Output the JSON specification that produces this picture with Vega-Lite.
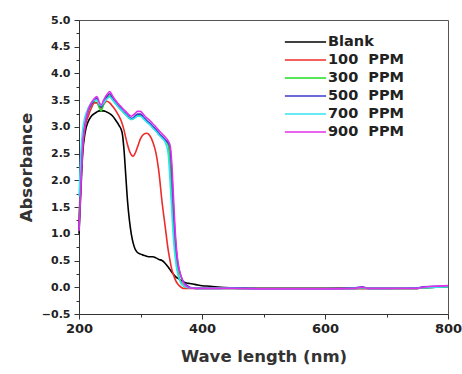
{
  "$schema": "https://vega.github.io/schema/vega-lite/v6.json",
  "width": 369,
  "height": 294,
  "autosize": {"type": "none"},
  "padding": {"left": 79, "top": 20, "right": 14, "bottom": 60},
  "background": "white",
  "config": {
    "view": {"stroke": "#555", "strokeWidth": 1},
    "font": "DejaVu Sans"
  },
  "data": {
    "values": [
      {"x": 200, "Blank": 1.0, "100": 1.2, "300": 1.3, "500": 1.1, "700": 1.7, "900": 1.05},
      {"x": 203, "Blank": 1.8, "100": 2.0, "300": 2.1, "500": 2.0, "700": 2.5, "900": 1.9},
      {"x": 206, "Blank": 2.5, "100": 2.6, "300": 2.75, "500": 2.7, "700": 2.95, "900": 2.65},
      {"x": 210, "Blank": 2.9, "100": 3.0, "300": 3.1, "500": 3.05, "700": 3.2, "900": 3.05},
      {"x": 215, "Blank": 3.1, "100": 3.2, "300": 3.3, "500": 3.3, "700": 3.35, "900": 3.32},
      {"x": 220, "Blank": 3.2, "100": 3.35, "300": 3.42, "500": 3.42, "700": 3.45, "900": 3.45},
      {"x": 225, "Blank": 3.25, "100": 3.45, "300": 3.48, "500": 3.5, "700": 3.5, "900": 3.53},
      {"x": 229, "Blank": 3.28, "100": 3.45, "300": 3.5, "500": 3.54, "700": 3.5, "900": 3.57},
      {"x": 233, "Blank": 3.3, "100": 3.38, "300": 3.36, "500": 3.42, "700": 3.42, "900": 3.46},
      {"x": 236, "Blank": 3.3, "100": 3.35, "300": 3.3, "500": 3.37, "700": 3.4, "900": 3.41},
      {"x": 240, "Blank": 3.3, "100": 3.42, "300": 3.42, "500": 3.45, "700": 3.45, "900": 3.5},
      {"x": 245, "Blank": 3.28, "100": 3.48, "300": 3.53, "500": 3.56, "700": 3.52, "900": 3.6},
      {"x": 250, "Blank": 3.25, "100": 3.45, "300": 3.58, "500": 3.62, "700": 3.56, "900": 3.66},
      {"x": 255, "Blank": 3.2, "100": 3.38, "300": 3.5, "500": 3.53, "700": 3.5, "900": 3.57},
      {"x": 260, "Blank": 3.12, "100": 3.3, "300": 3.43, "500": 3.45, "700": 3.43, "900": 3.49},
      {"x": 265, "Blank": 3.03, "100": 3.2, "300": 3.36, "500": 3.38, "700": 3.36, "900": 3.42},
      {"x": 270, "Blank": 2.9, "100": 3.07, "300": 3.3, "500": 3.32, "700": 3.3, "900": 3.36},
      {"x": 273, "Blank": 2.6, "100": 2.95, "300": 3.26, "500": 3.28, "700": 3.26, "900": 3.32},
      {"x": 276, "Blank": 2.1, "100": 2.8, "300": 3.23, "500": 3.25, "700": 3.23, "900": 3.29},
      {"x": 279, "Blank": 1.6, "100": 2.66, "300": 3.19, "500": 3.21, "700": 3.19, "900": 3.25},
      {"x": 282, "Blank": 1.25, "100": 2.55, "300": 3.16, "500": 3.18, "700": 3.16, "900": 3.22},
      {"x": 285, "Blank": 1.0, "100": 2.48, "300": 3.14, "500": 3.16, "700": 3.14, "900": 3.2},
      {"x": 288, "Blank": 0.83, "100": 2.45, "300": 3.15, "500": 3.17, "700": 3.15, "900": 3.22},
      {"x": 291, "Blank": 0.72, "100": 2.5, "300": 3.18, "500": 3.2, "700": 3.17, "900": 3.25},
      {"x": 295, "Blank": 0.65, "100": 2.62, "300": 3.22, "500": 3.24, "700": 3.2, "900": 3.29},
      {"x": 300, "Blank": 0.62, "100": 2.78, "300": 3.22, "500": 3.24, "700": 3.2, "900": 3.29},
      {"x": 305, "Blank": 0.6, "100": 2.86, "300": 3.16, "500": 3.18, "700": 3.15, "900": 3.23},
      {"x": 310, "Blank": 0.58, "100": 2.88, "300": 3.1, "500": 3.12, "700": 3.09, "900": 3.17},
      {"x": 315, "Blank": 0.57, "100": 2.84, "300": 3.05, "500": 3.07, "700": 3.04, "900": 3.12},
      {"x": 320, "Blank": 0.57, "100": 2.72, "300": 2.99, "500": 3.01, "700": 2.98, "900": 3.06},
      {"x": 325, "Blank": 0.55, "100": 2.52, "300": 2.93, "500": 2.95, "700": 2.92, "900": 3.0},
      {"x": 330, "Blank": 0.52, "100": 2.15, "300": 2.86, "500": 2.88, "700": 2.85, "900": 2.93},
      {"x": 335, "Blank": 0.5, "100": 1.6, "300": 2.8, "500": 2.82, "700": 2.79, "900": 2.87},
      {"x": 340, "Blank": 0.45, "100": 1.15, "300": 2.74, "500": 2.76, "700": 2.72, "900": 2.81},
      {"x": 345, "Blank": 0.38, "100": 0.7, "300": 2.66, "500": 2.7, "700": 2.5, "900": 2.74},
      {"x": 348, "Blank": 0.33, "100": 0.5, "300": 2.3, "500": 2.62, "700": 2.0, "900": 2.66},
      {"x": 351, "Blank": 0.28, "100": 0.33, "300": 1.7, "500": 2.1, "700": 1.4, "900": 2.3},
      {"x": 354, "Blank": 0.24, "100": 0.22, "300": 1.05, "500": 1.4, "700": 0.85, "900": 1.6},
      {"x": 357, "Blank": 0.2, "100": 0.13, "300": 0.6, "500": 0.85, "700": 0.5, "900": 0.95},
      {"x": 360, "Blank": 0.17, "100": 0.07, "300": 0.35, "500": 0.5, "700": 0.28, "900": 0.55},
      {"x": 363, "Blank": 0.15, "100": 0.03, "300": 0.18, "500": 0.32, "700": 0.15, "900": 0.33},
      {"x": 366, "Blank": 0.13, "100": 0.0, "300": 0.09, "500": 0.2, "700": 0.07, "900": 0.2},
      {"x": 370, "Blank": 0.1, "100": -0.02, "300": 0.03, "500": 0.1, "700": 0.02, "900": 0.08},
      {"x": 375, "Blank": 0.08, "100": -0.02, "300": 0.0, "500": 0.04, "700": 0.0, "900": 0.02},
      {"x": 380, "Blank": 0.07, "100": -0.02, "300": -0.01, "500": 0.0, "700": -0.01, "900": -0.01},
      {"x": 390, "Blank": 0.05, "100": -0.02, "300": -0.02, "500": -0.02, "700": -0.02, "900": -0.02},
      {"x": 400, "Blank": 0.03, "100": -0.02, "300": -0.02, "500": -0.02, "700": -0.02, "900": -0.02},
      {"x": 413, "Blank": 0.02, "100": -0.02, "300": -0.02, "500": -0.02, "700": -0.02, "900": -0.02},
      {"x": 430, "Blank": 0.0, "100": -0.02, "300": -0.02, "500": -0.02, "700": -0.02, "900": -0.02},
      {"x": 450, "Blank": -0.01, "100": -0.02, "300": -0.02, "500": -0.01, "700": -0.02, "900": -0.02},
      {"x": 500, "Blank": -0.02, "100": -0.03, "300": -0.03, "500": -0.03, "700": -0.03, "900": -0.03},
      {"x": 550, "Blank": -0.02, "100": -0.03, "300": -0.03, "500": -0.03, "700": -0.03, "900": -0.03},
      {"x": 600, "Blank": -0.02, "100": -0.03, "300": -0.03, "500": -0.03, "700": -0.03, "900": -0.03},
      {"x": 650, "Blank": -0.02, "100": -0.02, "300": -0.02, "500": -0.01, "700": -0.02, "900": -0.02},
      {"x": 660, "Blank": -0.02, "100": -0.02, "300": -0.01, "500": 0.01, "700": -0.01, "900": 0.0},
      {"x": 670, "Blank": -0.02, "100": -0.02, "300": -0.02, "500": -0.02, "700": -0.02, "900": -0.02},
      {"x": 700, "Blank": -0.02, "100": -0.02, "300": -0.02, "500": -0.02, "700": -0.02, "900": -0.02},
      {"x": 750, "Blank": -0.02, "100": -0.02, "300": -0.02, "500": -0.01, "700": -0.02, "900": -0.02},
      {"x": 760, "Blank": -0.01, "100": -0.01, "300": -0.01, "500": 0.01, "700": -0.01, "900": 0.0},
      {"x": 780, "Blank": 0.0, "100": 0.01, "300": 0.0, "500": 0.02, "700": 0.0, "900": 0.02},
      {"x": 800, "Blank": 0.01, "100": 0.02, "300": 0.01, "500": 0.02, "700": 0.01, "900": 0.03}
    ]
  },
  "transform": [
    {"fold": ["Blank", "100", "300", "500", "700", "900"], "as": ["series", "absorbance"]}
  ],
  "mark": {"type": "line", "strokeWidth": 1.6, "interpolate": "monotone"},
  "encoding": {
    "x": {
      "field": "x",
      "type": "quantitative",
      "scale": {"domain": [200, 800], "nice": false},
      "axis": {
        "title": "Wave length (nm)",
        "values": [200, 300, 400, 500, 600, 700, 800],
        "labelExpr": "datum.value % 200 == 0 ? datum.label : ''",
        "grid": false,
        "domainColor": "#333",
        "tickColor": "#333",
        "tickSize": {"condition": {"test": "datum.value % 200 != 0", "value": 3}, "value": 5},
        "labelFont": "DejaVu Sans",
        "labelFontWeight": "bold",
        "labelFontSize": 13,
        "labelColor": "#222",
        "labelPadding": 3,
        "labelFlush": false,
        "titleFont": "DejaVu Sans",
        "titleFontWeight": "bold",
        "titleFontSize": 16.5,
        "titleColor": "#333",
        "titlePadding": 13
      }
    },
    "y": {
      "field": "absorbance",
      "type": "quantitative",
      "scale": {"domain": [-0.5, 5.0], "nice": false, "zero": false},
      "axis": {
        "title": "Absorbance",
        "values": [-0.5, -0.25, 0, 0.25, 0.5, 0.75, 1, 1.25, 1.5, 1.75, 2, 2.25, 2.5, 2.75, 3, 3.25, 3.5, 3.75, 4, 4.25, 4.5, 4.75, 5],
        "labelExpr": "(datum.value * 2) % 1 == 0 ? format(datum.value, '.1f') : ''",
        "grid": false,
        "domainColor": "#333",
        "tickColor": "#333",
        "tickSize": {"condition": {"test": "(datum.value * 2) % 1 != 0", "value": 3}, "value": 5},
        "labelFont": "DejaVu Sans",
        "labelFontWeight": "bold",
        "labelFontSize": 11,
        "labelColor": "#222",
        "labelPadding": 4,
        "labelFlush": false,
        "titleFont": "DejaVu Sans",
        "titleFontWeight": "bold",
        "titleFontSize": 16.5,
        "titleColor": "#333",
        "titlePadding": 7
      }
    },
    "color": {
      "field": "series",
      "type": "nominal",
      "sort": ["Blank", "100", "300", "500", "700", "900"],
      "scale": {
        "domain": ["Blank", "100", "300", "500", "700", "900"],
        "range": ["#000000", "#ee2b2b", "#22dd22", "#3a3ad0", "#33e3f0", "#e030e8"]
      },
      "legend": {
        "title": null,
        "orient": "none",
        "legendX": 205,
        "legendY": 13,
        "padding": 0,
        "symbolType": "stroke",
        "symbolSize": 1700,
        "symbolStrokeWidth": 1.6,
        "clipHeight": 18,
        "rowPadding": 0,
        "labelOffset": 1,
        "labelFont": "DejaVu Sans",
        "labelFontWeight": "bold",
        "labelFontSize": 14.5,
        "labelColor": "#222",
        "labelExpr": "datum.value == 'Blank' ? 'Blank' : datum.value + '\u00a0 PPM'"
      }
    },
    "order": {"field": "x", "type": "quantitative"}
  }
}
